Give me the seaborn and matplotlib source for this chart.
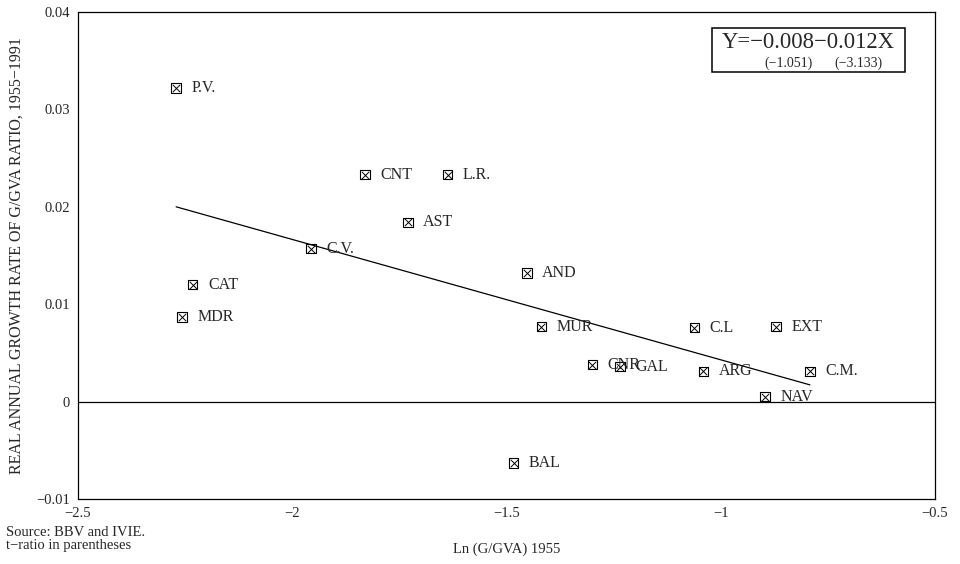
import pandas as pd
import matplotlib.pyplot as plt
import seaborn as sns
from matplotlib.patches import Rectangle

sns.set_style("white")
plt.rcParams["font.family"] = ["Liberation Serif", "DejaVu Serif"]

# Values
regions = ["P.V.", "CNT", "L.R.", "AST", "C.V.", "CAT", "MDR", "AND", "MUR",
           "C.L", "EXT", "CNR", "GAL", "ARG", "C.M.", "NAV", "BAL"]
ln_g_gva = [-2.271, -1.830, -1.637, -1.730, -1.956, -2.232, -2.257, -1.452, -1.419,
            -1.062, -0.871, -1.300, -1.235, -1.041, -0.792, -0.897, -1.483]
growth = [0.0322, 0.0233, 0.0233, 0.0184, 0.0157, 0.0120, 0.0087, 0.0132, 0.0077,
          0.0076, 0.0077, 0.0038, 0.0036, 0.0031, 0.0031, 0.0005, -0.0063]

df = pd.DataFrame({"region": regions, "x": ln_g_gva, "y": growth})

fig = plt.figure(figsize=(9.6, 5.64), dpi=100)
ax = fig.add_axes([0.08125, 0.1152, 0.8927, 0.8635])

# fitted line over the data range
sns.regplot(data=df, x="x", y="y", ci=None, scatter=False, truncate=True,
            line_kws=dict(color="black", lw=0.9), ax=ax)

ax.axhline(0, color="black", lw=0.9)

# boxed-cross markers
sns.scatterplot(data=df, x="x", y="y", marker="s", s=45, facecolor="none",
                edgecolor="black", linewidth=0.8, ax=ax, zorder=3)
sns.scatterplot(data=df, x="x", y="y", marker="x", s=28, color="black",
                linewidth=0.7, ax=ax, zorder=3)

# labels to the right of each point (CNR and GAL overlap, as in the source)
for r, x, y in zip(df["region"], df["x"], df["y"]):
    ax.annotate(r, (x, y), xytext=(11, 0), textcoords="offset points",
                va="center", ha="left", fontsize=11.5)

ax.set_xlim(-2.5, -0.5)
ax.set_ylim(-0.01, 0.04)
ax.set_xticks([-2.5, -2, -1.5, -1, -0.5])
ax.set_xticklabels(["\u22122.5", "\u22122", "\u22121.5", "\u22121", "\u22120.5"])
ax.set_yticks([-0.01, 0, 0.01, 0.02, 0.03, 0.04])
ax.set_yticklabels(["\u22120.01", "0", "0.01", "0.02", "0.03", "0.04"])
ax.tick_params(direction="in", length=3, width=0.8, labelsize=10.5, pad=6)
for s in ax.spines.values():
    s.set_color("black")
    s.set_linewidth(0.9)

ax.set_xlabel("Ln (G/GVA) 1955", fontsize=10.5, labelpad=16)
ax.set_ylabel("REAL ANNUAL GROWTH RATE OF G/GVA RATIO, 1955\u22121991",
              fontsize=11.5, labelpad=8)

# equation box
fig.patches.append(Rectangle((0.7417, 0.8723), 0.201, 0.0781, transform=fig.transFigure,
                             facecolor="white", edgecolor="black", linewidth=1.1))
fig.text(0.752, 0.9238, "Y=\u22120.008\u22120.012X", fontsize=16.3,
         ha="left", va="center")
fig.text(0.821, 0.888, "(\u22121.051)", fontsize=10, ha="center", va="center")
fig.text(0.894, 0.888, "(\u22123.133)", fontsize=10, ha="center", va="center")

fig.text(0.006, 0.055, "Source: BBV and IVIE.", fontsize=10.5, ha="left", va="center")
fig.text(0.006, 0.033, "t\u2212ratio in parentheses", fontsize=10.5, ha="left", va="center")

plt.savefig("out.png", dpi=100)
plt.close()
